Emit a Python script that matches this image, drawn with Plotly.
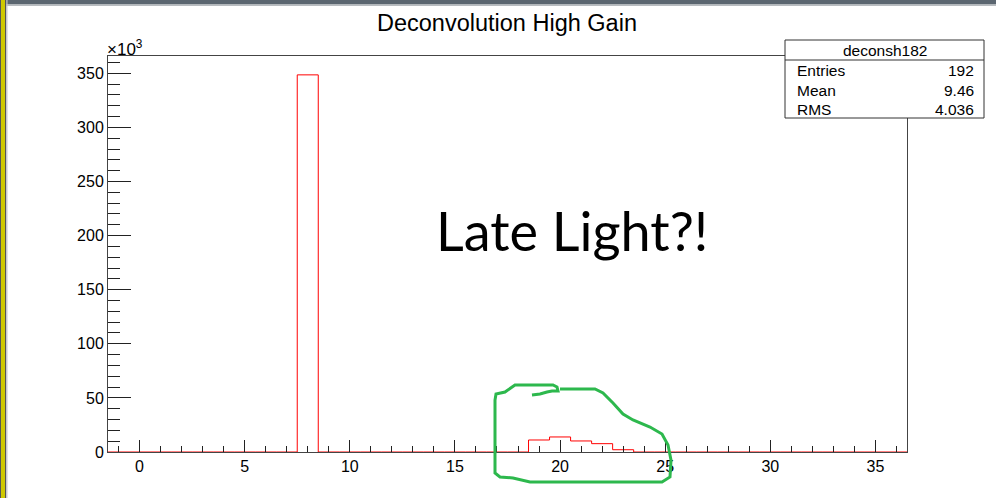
import plotly.graph_objects as go

# ---------------- data ----------------
bin_centers = list(range(-1, 37))          # bins of width 1, edges at half-integers
counts = [0] * 38
peak_bins = [8, 19, 20, 21, 22, 23]
peak_vals = [348600, 11100, 13900, 10200, 7700, 2100]
for b, v in zip(peak_bins, peak_vals):
    counts[b + 1] = v

y_tickvals = [0, 50000, 100000, 150000, 200000, 250000, 300000, 350000]
y_ticktext = ["0", "50", "100", "150", "200", "250", "300", "350"]
x_tickvals = [0, 5, 10, 15, 20, 25, 30, 35]

title_text = "Deconvolution High Gain"
stats_name = "deconsh182"
stats_labels = ["Entries", "Mean", "RMS"]
stats_values = ["192", "9.46", "4.036"]
note_text = "Late Light?!"

# ---------------- geometry helpers ----------------
W, H = 996, 498
L, R, T, B = 108, 907, 56, 452


def px(x):
    return (x - L) / (R - L)


def py(y):
    return (B - y) / (B - T)


edges = [c - 0.5 for c in bin_centers] + [bin_centers[-1] + 0.5]
step_y = counts + [counts[-1]]

fig = go.Figure()
fig.add_trace(go.Scatter(
    x=edges, y=step_y, mode="lines", line=dict(color="#ff0000", width=1, shape="hv"),
    hoverinfo="skip", showlegend=False, cliponaxis=True,
))

ymax = max(counts) * 1.05
FONT = "Liberation Sans, Arial, sans-serif"

fig.update_layout(
    width=W, height=H, autosize=False,
    margin=dict(l=L, r=W - R, t=T, b=H - B, pad=0),
    paper_bgcolor="white", plot_bgcolor="white",
    font=dict(family=FONT, size=16, color="black"),
    showlegend=False,
)
fig.update_xaxes(
    range=[edges[0], edges[-1]], showgrid=False, zeroline=False,
    showline=True, linecolor="#444", linewidth=1, mirror=True,
    ticks="inside", ticklen=12, tickwidth=1, tickcolor="#222",
    tickvals=x_tickvals, tickfont=dict(size=16, family=FONT),
    minor=dict(ticks="inside", ticklen=6, dtick=1, tick0=0, tickcolor="#222", showgrid=False),
)
fig.update_yaxes(
    range=[0, ymax], showgrid=False, zeroline=False,
    showline=True, linecolor="#444", linewidth=1, mirror=True,
    ticks="inside", ticklen=23, tickwidth=1, tickcolor="#222",
    tickvals=y_tickvals, ticktext=y_ticktext, tickfont=dict(size=16, family=FONT),
    minor=dict(ticks="inside", ticklen=12, dtick=10000, tick0=0, tickcolor="#222", showgrid=False),
)

shapes = []
ann = []

# title
ann.append(dict(x=px(507), y=py(23), xref="paper", yref="paper", text=title_text,
                showarrow=False, xanchor="center", yanchor="middle",
                font=dict(size=23.5, family=FONT, color="black")))
# x10^3
ann.append(dict(x=px(105), y=py(48), xref="paper", yref="paper", text="×10<sup>3</sup>",
                showarrow=False, xanchor="left", yanchor="middle",
                font=dict(size=17, family=FONT, color="black")))

# stats box
shapes.append(dict(type="rect", xref="paper", yref="paper", x0=px(785), x1=px(984),
                   y0=py(40), y1=py(118), line=dict(color="#333", width=1),
                   fillcolor="white", layer="above"))
shapes.append(dict(type="line", xref="paper", yref="paper", x0=px(785), x1=px(984),
                   y0=py(60), y1=py(60), line=dict(color="#333", width=1), layer="above"))
ann.append(dict(x=px(884.5), y=py(50.5), xref="paper", yref="paper", text=stats_name,
                showarrow=False, xanchor="center", yanchor="middle",
                font=dict(size=15.5, family=FONT, color="black")))
row_y = [70.5, 90.5, 109.5]
for lab, val, yy in zip(stats_labels, stats_values, row_y):
    ann.append(dict(x=px(795), y=py(yy), xref="paper", yref="paper", text=lab,
                    showarrow=False, xanchor="left", yanchor="middle",
                    font=dict(size=15.5, family=FONT, color="black")))
    ann.append(dict(x=px(976), y=py(yy), xref="paper", yref="paper", text=val,
                    showarrow=False, xanchor="right", yanchor="middle",
                    font=dict(size=15.5, family=FONT, color="black")))

# hand-written note
ann.append(dict(x=px(572), y=py(230), xref="paper", yref="paper", text=note_text,
                showarrow=False, xanchor="center", yanchor="middle",
                font=dict(size=54, family="Lato, Open Sans, sans-serif", color="black")))

# hand-drawn green loop (pixel points of the scribble)
loop_pts = [(532, 395), (540, 394), (547, 392), (552, 391), (558, 391), (557, 387),
            (553, 385), (515, 385), (505, 392), (496, 394), (495, 400), (495, 473),
            (500, 477), (513, 478), (530, 482), (662, 482), (670, 477), (671, 460),
            (668, 445), (662, 434), (650, 427), (633, 420), (623, 414), (613, 403),
            (603, 393), (595, 389), (560, 389)]
path = "M " + " L ".join(f"{px(x):.5f},{py(y):.5f}" for x, y in loop_pts)
shapes.append(dict(type="path", xref="paper", yref="paper", path=path,
                   line=dict(color="#2db84d", width=3), layer="above"))

# window chrome
shapes.append(dict(type="rect", xref="paper", yref="paper", x0=px(0), x1=px(W), y0=py(0), y1=py(4.5),
                   fillcolor="#5b6670", line=dict(width=0), layer="above"))
shapes.append(dict(type="rect", xref="paper", yref="paper", x0=px(0), x1=px(W), y0=py(4.5), y1=py(6),
                   fillcolor="#b8bcc0", line=dict(width=0), layer="above"))
shapes.append(dict(type="rect", xref="paper", yref="paper", x0=px(0), x1=px(1), y0=py(0), y1=py(H),
                   fillcolor="#555555", line=dict(width=0), layer="above"))
shapes.append(dict(type="rect", xref="paper", yref="paper", x0=px(1), x1=px(5), y0=py(0), y1=py(H),
                   fillcolor="#cfc800", line=dict(width=0), layer="above"))
shapes.append(dict(type="rect", xref="paper", yref="paper", x0=px(5), x1=px(6.3), y0=py(0), y1=py(H),
                   fillcolor="#555555", line=dict(width=0), layer="above"))
shapes.append(dict(type="rect", xref="paper", yref="paper", x0=px(6.3), x1=px(7.5), y0=py(0), y1=py(H),
                   fillcolor="#c8c8c8", line=dict(width=0), layer="above"))

fig.update_layout(shapes=shapes, annotations=ann)
fig.write_html("out.html")
